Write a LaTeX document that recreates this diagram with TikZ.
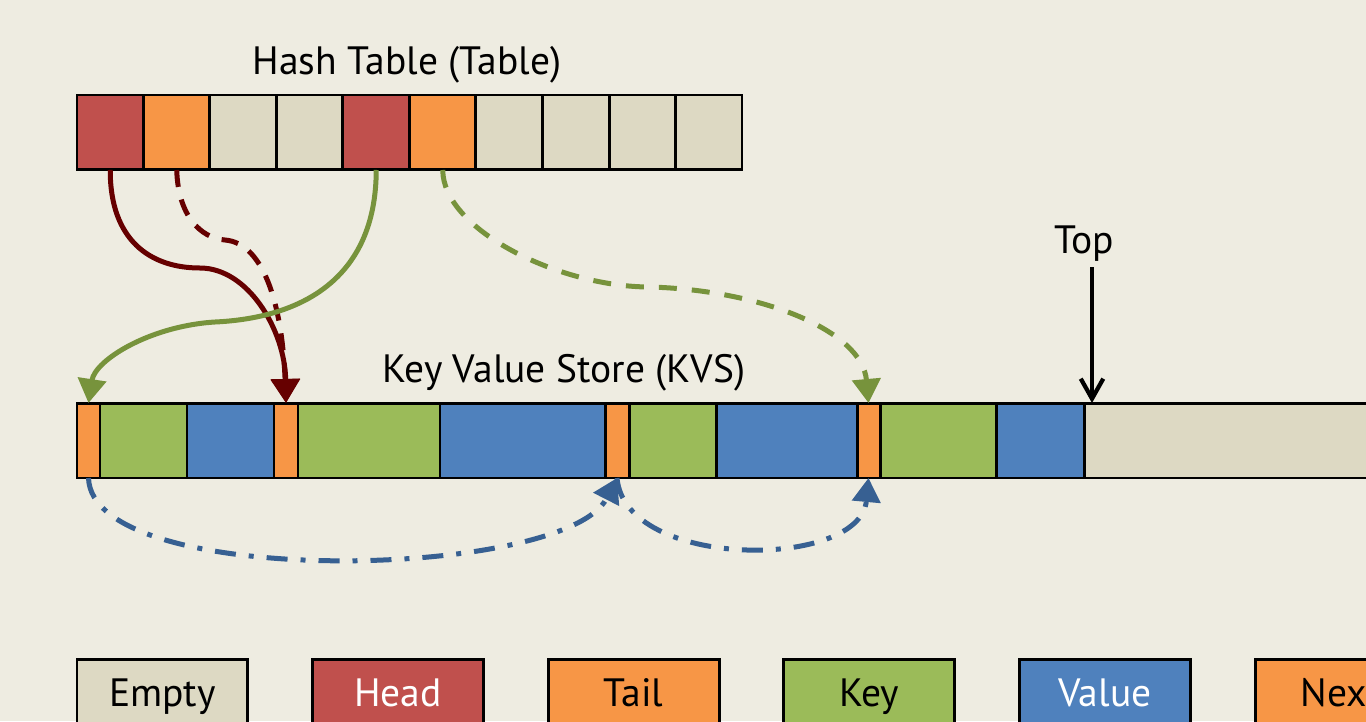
\documentclass[tikz,border=0pt]{standalone}
\usepackage{fontspec}
\setmainfont{PT Sans}
\usetikzlibrary{arrows.meta}

\definecolor{bgc}{RGB}{238,236,225}
\definecolor{emptyc}{RGB}{221,217,195}
\definecolor{headc}{RGB}{192,80,77}
\definecolor{tailc}{RGB}{247,150,70}
\definecolor{keyc}{RGB}{155,187,89}
\definecolor{valc}{RGB}{79,129,189}
\definecolor{darkred}{RGB}{102,0,0}
\definecolor{darkgreen}{RGB}{119,147,60}
\definecolor{darkblue}{RGB}{55,96,146}

\tikzset{
    cell/.style={draw=black, line width=1.7pt, minimum height=1.5cm, inner sep=0pt, outer sep=0pt},
    lbl/.style={font=\fontsize{22.5}{27}\selectfont},
    legend/.style={cell, lbl, minimum width=3.42cm, minimum height=1.48cm, text height=0.58cm, text depth=0.16cm},
    ptr/.style={line width=0.1cm, -{Triangle[length=0.48cm, width=0.56cm]}},
    dashdotline/.style={dash pattern=on 0.42cm off 0.26cm on 0.1cm off 0.26cm},
    topline/.style={line width=0.085cm, -{Straight Barb[length=0.4cm, width=0.45cm]}}
}

\begin{document}
\begin{tikzpicture}[x=0.02cm, y=-0.02cm]
    \fill[bgc] (0,0) rectangle (1366,721);
    \useasboundingbox (0,0) rectangle (1366,721);

    \node[lbl, anchor=base] (htlabel) at (407,74) {Hash Table (Table)};
    \foreach \c [count=\i from 0] in {headc,tailc,emptyc,emptyc,headc,tailc,emptyc,emptyc,emptyc,emptyc}
      \node[cell, fill=\c, minimum width=1.33cm, anchor=north west] (h\i) at ({77+66.5*\i},95) {};

    \node[lbl, anchor=base] (kvslabel) at (564,382) {Key Value Store (KVS)};
    \foreach \a/\b/\c [count=\i from 0] in {77/100/tailc,100/187/keyc,187/274/valc,274/298/tailc,298/440/keyc,440/605/valc,605/629/tailc,629/716/keyc,716/857/valc,857/880/tailc,880/996/keyc,996/1084/valc,1084/1420/emptyc}
      \node[cell, fill=\c, minimum width={(\b-\a)*0.02cm}, anchor=north west] (k\i) at (\a,403) {};

    \node[lbl, anchor=base] (top) at (1084,253) {Top};
    \coordinate (topptr) at (1092,403);
    \draw[topline] (top.south -| topptr) -- (topptr);

    \draw[ptr, darkred] (h0.south) .. controls (110,240) and (150,268) .. (200,268)
      .. controls (248,268) and (285,330) .. (k3.north);
    \draw[ptr, darkred, dash pattern=on 0.34cm off 0.26cm] (h1.south) .. controls (178,215) and (200,238) .. (225,240)
      .. controls (262,243) and (282,300) .. (k3.north);
    \draw[ptr, darkgreen] (h4.south) .. controls (376,280) and (300,318) .. (215,322)
      .. controls (150,326) and (95,360) .. (k0.north);
    \draw[ptr, darkgreen, dash pattern=on 0.36cm off 0.3cm] (h5.south) .. controls (443,230) and (560,287) .. (650,287)
      .. controls (760,290) and (862,330) .. (k9.north);
    \draw[ptr, darkblue, dashdotline] (k0.south) .. controls (92,590) and (565,580) .. (k6.south);
    \draw[ptr, darkblue, dashdotline] (k6.south) .. controls (625,570) and (860,570) .. (k9.south);

    \foreach \t/\c/\f [count=\i from 0] in {Empty/emptyc/black,Head/headc/white,Tail/tailc/black,Key/keyc/black,Value/valc/white,Next/tailc/black}
      \node[legend, fill=\c, text=\f, anchor=north west] (lg\i) at ({77+235.6*\i},659) {\t};
\end{tikzpicture}
\end{document}
